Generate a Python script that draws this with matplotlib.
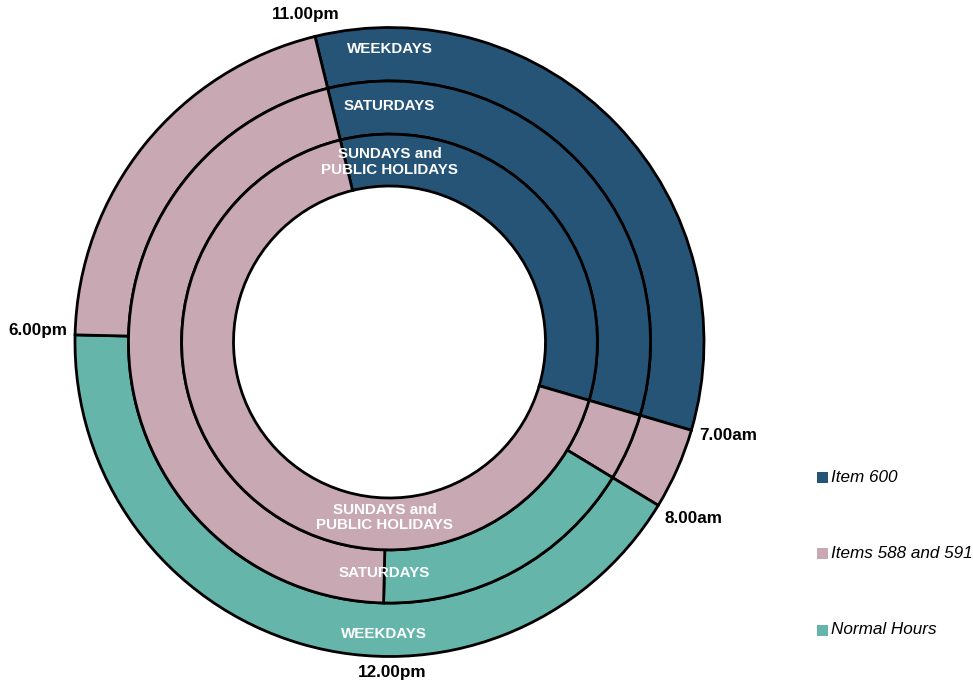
import matplotlib
matplotlib.use("Agg")
import matplotlib.pyplot as plt
from matplotlib.patches import Rectangle

plt.rcParams['font.family'] = ['Liberation Sans', 'DejaVu Sans']

# ---- data (hours, starting at 11.00pm, clockwise) ----
categories = ["Item 600", "Items 588 and 591", "Normal Hours"]
colors = {"Item 600": "#255477", "Items 588 and 591": "#C8A8B3", "Normal Hours": "#66B5AA"}

weekdays_cats = ["Item 600", "Items 588 and 591", "Normal Hours", "Items 588 and 591"]
weekdays_hours = [8, 1, 10, 5]
saturdays_cats = ["Item 600", "Items 588 and 591", "Normal Hours", "Items 588 and 591"]
saturdays_hours = [8, 1, 4, 11]
sundays_cats = ["Item 600", "Items 588 and 591"]
sundays_hours = [8, 16]

ring_names = ["WEEKDAYS", "SATURDAYS", "SUNDAYS and\nPUBLIC HOLIDAYS"]
time_labels = ["11.00pm", "7.00am", "8.00am", "12.00pm", "6.00pm"]

# ---- figure ----
W, H = 973, 684
fig = plt.figure(figsize=(W / 100, H / 100), dpi=100)
cx, cy, R = 389.5, 342, 314.5
ax = fig.add_axes([(cx - R) / W, (H - cy - R) / H, 2 * R / W, 2 * R / H])
ax.set_xlim(-1, 1)
ax.set_ylim(-1, 1)
ax.axis('off')

start = 90 + 15 - 1.3   # 11.00pm, clockwise
radii = [1.0, 0.83, 0.661]
width = [0.17, 0.169, 0.165]
rings = [(weekdays_hours, weekdays_cats), (saturdays_hours, saturdays_cats),
         (sundays_hours, sundays_cats)]
for (vals, cats), r, w in zip(rings, radii, width):
    ax.pie(vals, colors=[colors[c] for c in cats], radius=r, startangle=start,
           counterclock=False, normalize=True,
           wedgeprops=dict(width=w, edgecolor='black', linewidth=2.0))
ax.set_xlim(-1, 1)
ax.set_ylim(-1, 1)
ax.set_aspect('auto')

# ring labels (top and bottom)
top_y = [0.933, 0.751, 0.572]
bot_y = [-0.927, -0.735, -0.557]
for name, ty, by in zip(ring_names, top_y, bot_y):
    for x, y in [(0.0, ty), (-0.016, by)]:
        ax.text(x, y, name, ha='center', va='center', color='white',
                fontsize=10.9, fontweight='bold', linespacing=1.12)

# time labels
time_pos = [(-0.265, 1.040), (1.078, -0.297), (0.967, -0.562), (0.0095, -1.052), (-1.119, 0.035)]
for lab, (x, y) in zip(time_labels, time_pos):
    ax.text(x, y, lab, ha='center', va='center', color='black',
            fontsize=12.3, fontweight='bold', clip_on=False)

# legend
leg_y = [477, 553, 630]
for cat, y in zip(categories, leg_y):
    fig.patches.append(Rectangle((817 / W, (H - y - 5.5) / H), 11 / W, 11 / H,
                                 transform=fig.transFigure, facecolor=colors[cat],
                                 edgecolor='none'))
    fig.text(831 / W, (H - y) / H, cat, ha='left', va='center', fontsize=12.3,
             fontstyle='italic', color='black')

fig.savefig('out.png', dpi=100)
